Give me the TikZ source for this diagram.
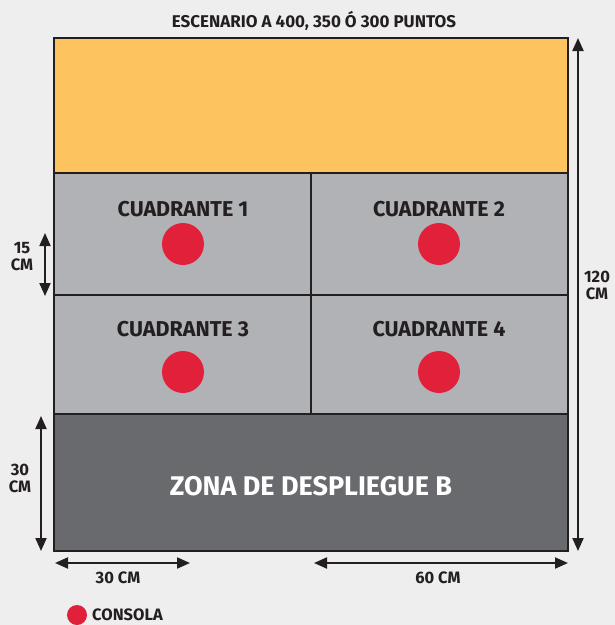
\documentclass[tikz,border=0pt]{standalone}
\usepackage{fontspec}
\setmainfont{Fira Sans}
\usetikzlibrary{arrows.meta}
\definecolor{bg}{HTML}{EEEEEE}
\definecolor{orng}{HTML}{FDC35E}
\definecolor{lgray}{HTML}{B1B2B5}
\definecolor{dgray}{HTML}{696A6D}
\definecolor{redc}{HTML}{E1213A}
\definecolor{ink}{HTML}{231F20}
\tikzset{
  lbl/.style={font=\bfseries\fontsize{16.5}{17}\selectfont, text=ink, align=center, inner sep=0pt},
  ttl/.style={font=\bfseries\fontsize{17}{18}\selectfont, text=ink, inner sep=0pt},
  qlbl/.style={font=\bfseries\fontsize{21.5}{22}\selectfont, text=ink, inner sep=0pt},
  dim/.style={draw=ink, line width=2pt, {Triangle[length=13pt,width=11pt]}-{Triangle[length=13pt,width=11pt]}},
  dot/.style={circle, fill=redc, minimum size=42pt, inner sep=0pt},
  zone/.style={draw=ink, line width=2pt}
}
\begin{document}
\begin{tikzpicture}[x=1pt,y=-1pt]
\fill[bg] (0,0) rectangle (615,625);
\useasboundingbox (0,0) rectangle (615,625);
% zones
\fill[orng] (54,38) rectangle (568,173);
\fill[lgray] (54,173) rectangle (568,414);
\fill[dgray] (54,414) rectangle (568,551);
\draw[zone] (54,173) -- (568,173);
\draw[zone] (54,295) -- (568,295);
\draw[zone] (54,414) -- (568,414);
\draw[zone] (311,173) -- (311,414);
\draw[draw=ink, line width=2.5pt] (54,38) rectangle (568,551);
% title
\node[ttl] (title) at (314,21) {ESCENARIO A 400, 350 Ó 300 PUNTOS};
% quadrants
\node[qlbl] (q1) at (183,209) {CUADRANTE 1};
\node[qlbl] (q2) at (439,209) {CUADRANTE 2};
\node[qlbl] (q3) at (183,329) {CUADRANTE 3};
\node[qlbl] (q4) at (439,329) {CUADRANTE 4};
\node[dot] (c1) at (183,244) {};
\node[dot] (c2) at (439,244) {};
\node[dot] (c3) at (183,372) {};
\node[dot] (c4) at (439,372) {};
\node[font=\bfseries\fontsize{27}{28}\selectfont, text=white, inner sep=0pt] (zona) at (311,486) {ZONA DE DESPLIEGUE B};
% dimensions
\coordinate (r1) at (578,38); \coordinate (r2) at (578,551);
\draw[dim] (r1) -- (r2);
\node[lbl] (l120) at (597,285) {120\\CM};
\coordinate (a1) at (45,233); \coordinate (a2) at (45,296);
\draw[dim] (a1) -- (a2);
\node[lbl] (l15) at (22,257) {15\\CM};
\coordinate (b1) at (41,416); \coordinate (b2) at (41,551);
\draw[dim] (b1) -- (b2);
\node[lbl] (l30v) at (20,478) {30\\CM};
\coordinate (h1) at (55,563); \coordinate (h2) at (190,563);
\draw[dim] (h1) -- (h2);
\node[lbl] (l30h) at (118,578) {30 CM};
\coordinate (k1) at (314,563); \coordinate (k2) at (568,563);
\draw[dim] (k1) -- (k2);
\node[lbl] (l60) at (438,578) {60 CM};
% legend
\node[circle, fill=redc, minimum size=20pt, inner sep=0pt] (leg) at (77,615) {};
\node[lbl, anchor=west] (legt) at (92,615) {CONSOLA};
\end{tikzpicture}
\end{document}
